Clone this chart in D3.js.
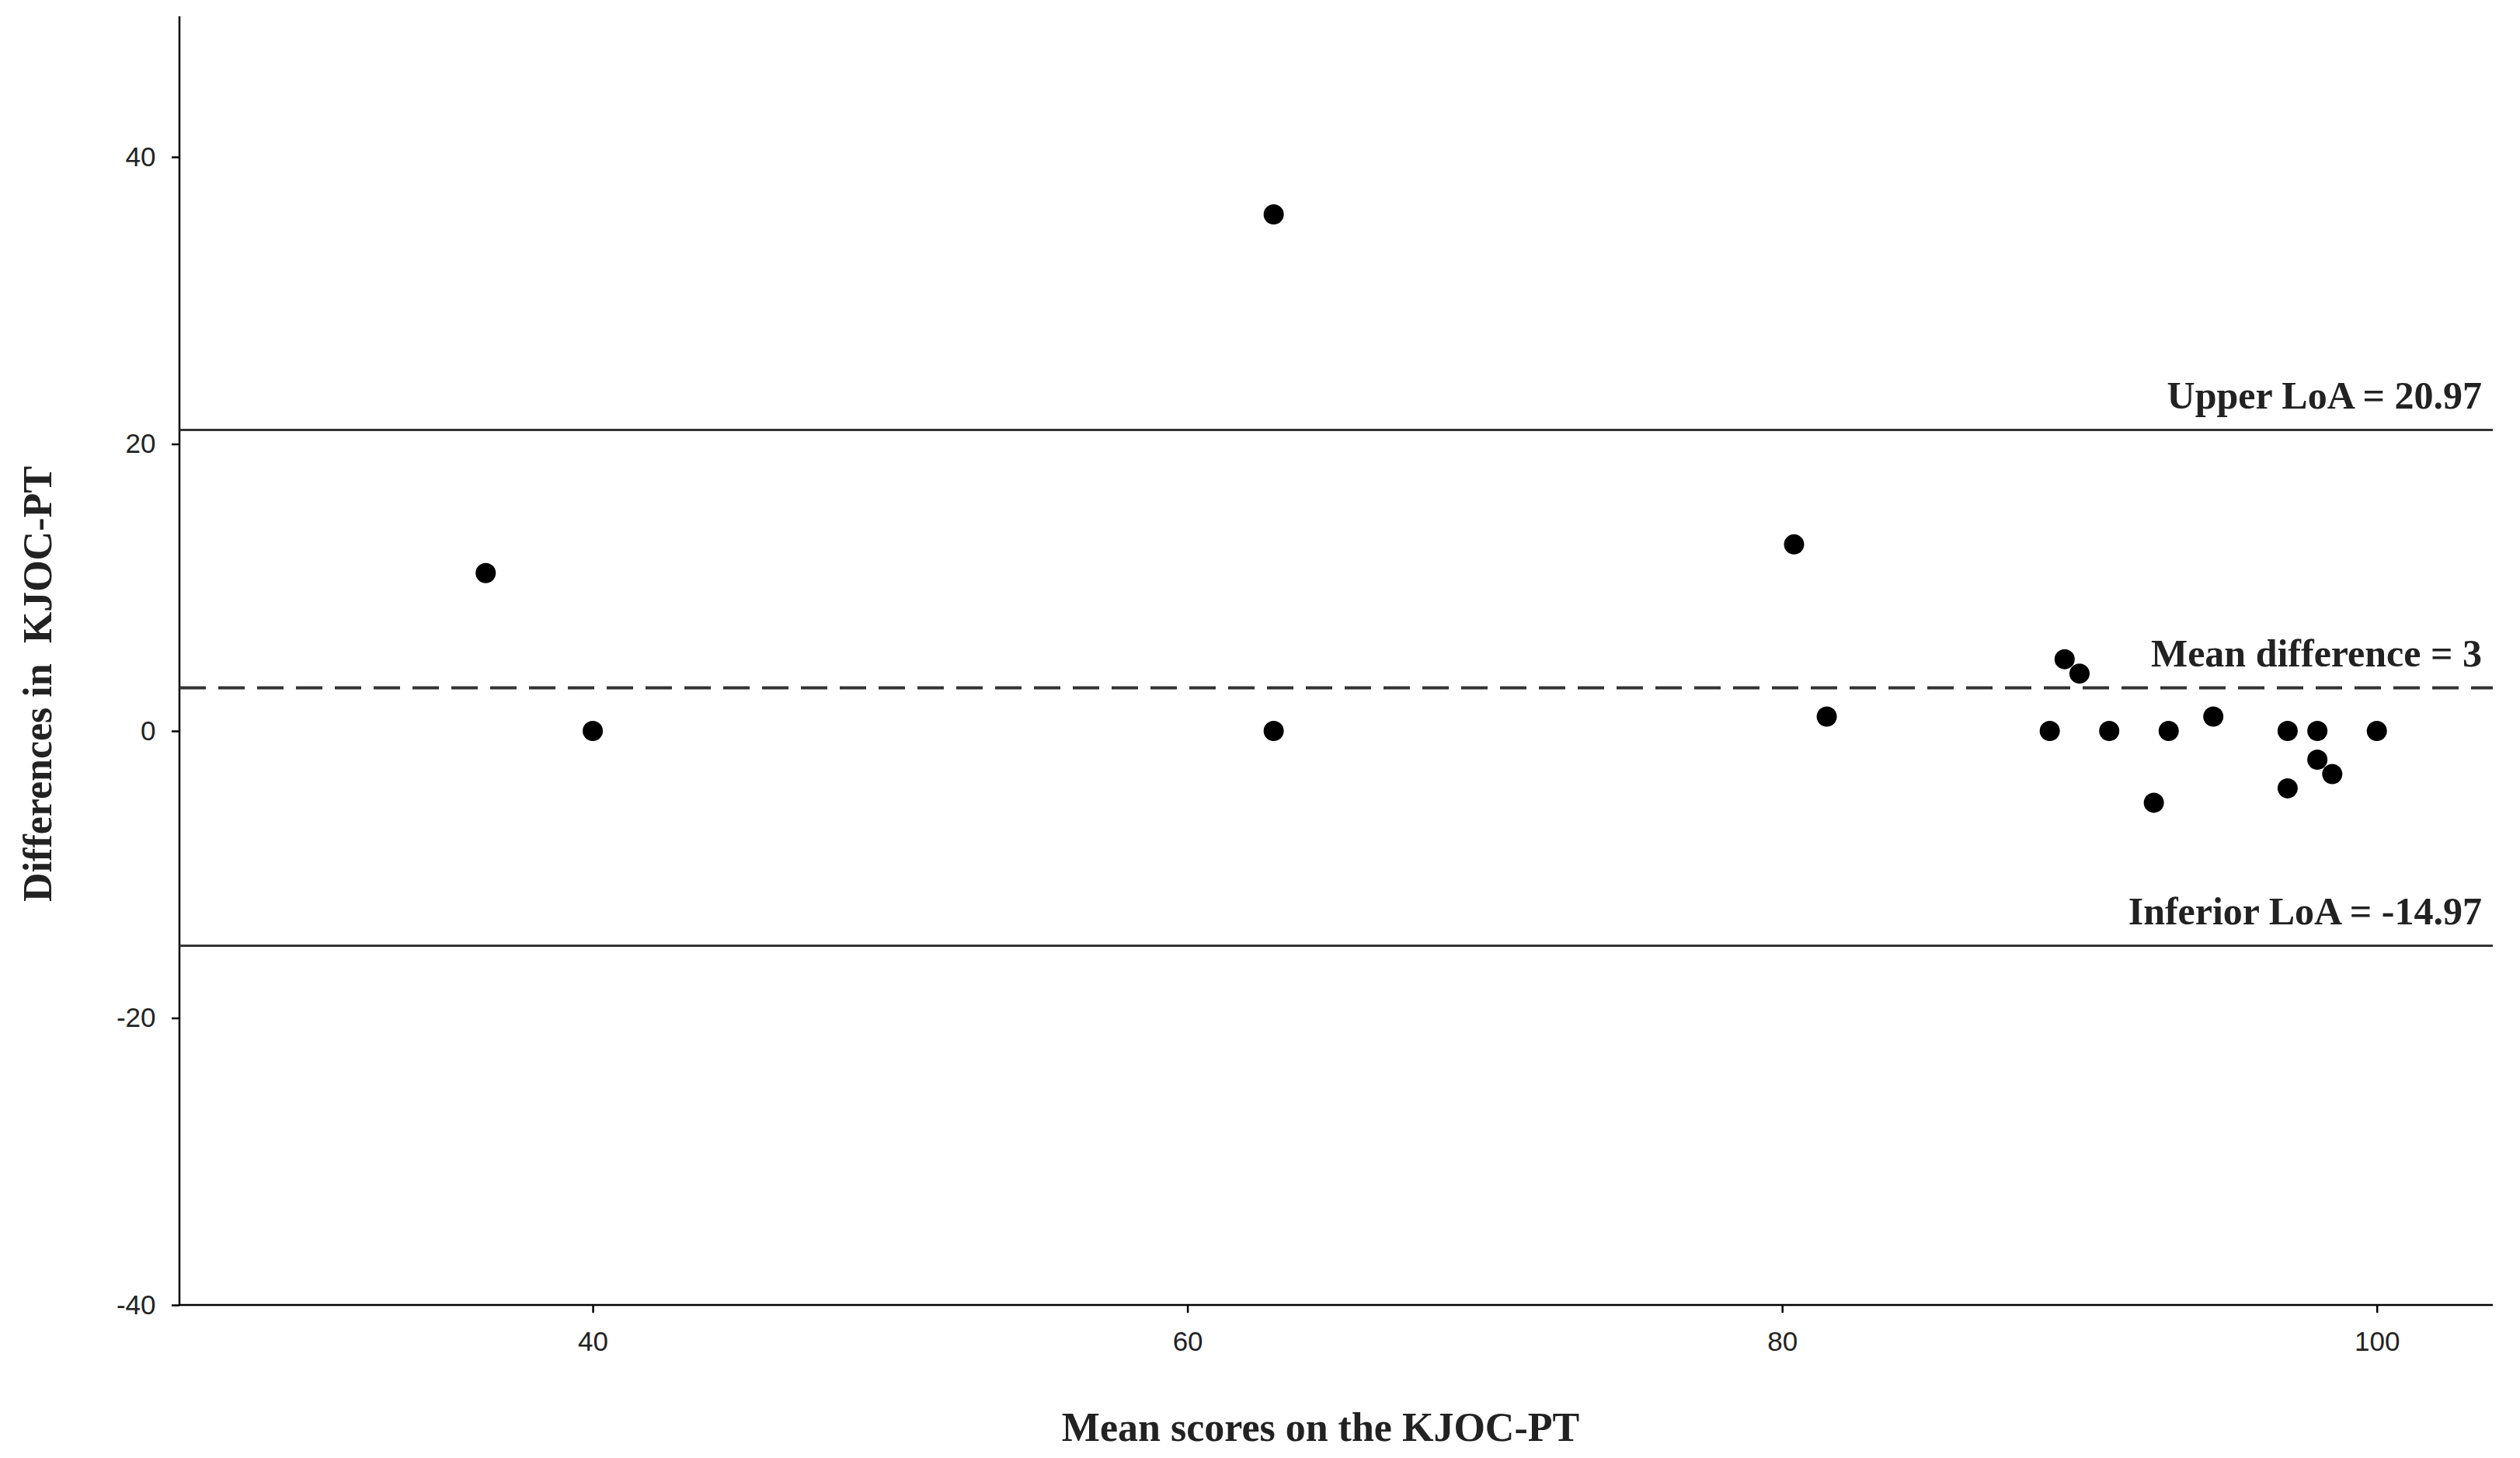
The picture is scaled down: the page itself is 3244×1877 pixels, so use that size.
<!DOCTYPE html>
<html><head><meta charset="utf-8">
<script src="https://cdn.jsdelivr.net/npm/d3@7/dist/d3.min.js"></script>
<style>body{margin:0;background:#fff}</style></head>
<body><svg id="c" width="3244" height="1877"></svg>
<script>
const meanScores = [36.4,40,62.9,62.9,80.4,81.5,89.0,89.5,90.0,91.0,92.5,93.0,94.5,97.0,97.0,98.0,98.0,98.5,100];
const differences = [11,0,36,0,13,1,0,5,4,0,-5,0,1,0,-4,0,-2,-3,0];
const xTicks = [40,60,80,100];
const yTicks = [-40,-20,0,20,40];
const refLines = [{v:20.97,label:"Upper LoA = 20.97",dash:false},{v:3,label:"Mean difference = 3",dash:true},{v:-14.97,label:"Inferior LoA = -14.97",dash:false}];

const svg=d3.select("#c");
const L=231,R=3209,T=21,B=1680;
const x=d3.scaleLinear().domain([26.1,103.9]).range([L,R]);
const y=d3.scaleLinear().domain([-40,49.8]).range([B,T]);
svg.append("line").attr("x1",L).attr("x2",R).attr("y1",B).attr("y2",B).attr("stroke","#000").attr("stroke-width",2.5);
svg.append("line").attr("x1",L).attr("x2",L).attr("y1",T).attr("y2",B).attr("stroke","#000").attr("stroke-width",2.5);
const fmt=d=>String(d);
const xa=svg.append("g").attr("transform",`translate(0,${B})`).call(d3.axisBottom(x).tickValues(xTicks).tickSize(10).tickFormat(fmt));
const ya=svg.append("g").attr("transform",`translate(${L},0)`).call(d3.axisLeft(y).tickValues(yTicks).tickSize(10).tickFormat(fmt));
[xa,ya].forEach(a=>{a.select(".domain").remove();a.selectAll("line").attr("stroke","#000").attr("stroke-width",2.5);a.selectAll("text").attr("font-family","Liberation Sans, Arial").attr("font-size",35).attr("fill","#222");});
xa.selectAll("text").attr("dy","1.3em");
ya.selectAll("text").attr("dx","-0.5em");
refLines.forEach(r=>{
  svg.append("line").attr("x1",L).attr("x2",R).attr("y1",y(r.v)).attr("y2",y(r.v)).attr("stroke","#333").attr("stroke-width",r.dash?4:3).attr("stroke-dasharray",r.dash?"34,16":null);
  svg.append("text").attr("x",R-14).attr("y",y(r.v)-28).attr("text-anchor","end").attr("font-family","Liberation Serif, Times New Roman").attr("font-weight","bold").attr("font-size",50).attr("fill","#222").text(r.label);
});
svg.append("g").selectAll("circle").data(meanScores).join("circle").attr("cx",d=>x(d)).attr("cy",(d,i)=>y(differences[i])).attr("r",13).attr("fill","#000");
svg.append("text").attr("x",(L+R)/2-20).attr("y",1855).attr("text-anchor","middle").attr("font-family","Liberation Serif, Times New Roman").attr("font-weight","bold").attr("font-size",52).attr("fill","#222").text("Mean scores on the KJOC-PT");
svg.append("text").attr("transform",`translate(66,${(T+B)/2+30}) rotate(-90)`).attr("text-anchor","middle").attr("font-family","Liberation Serif, Times New Roman").attr("font-weight","bold").attr("font-size",52).attr("fill","#222").attr("xml:space","preserve").text("Differences in  KJOC-PT");
</script></body></html>
